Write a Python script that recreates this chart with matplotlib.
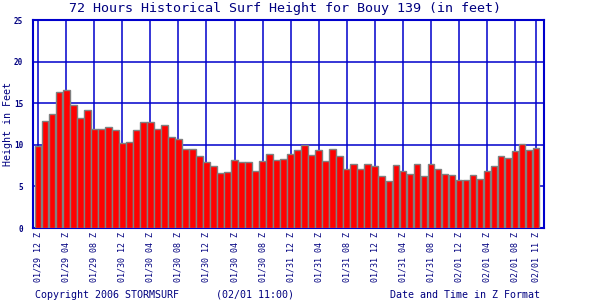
import matplotlib
matplotlib.use("Agg")
import matplotlib.pyplot as plt

heights = [9.9, 12.9, 13.7, 16.35, 16.6, 14.75, 13.2, 14.2, 11.9, 11.9,
           12.2, 11.75, 10.2, 10.4, 11.75, 12.8, 12.7, 11.85, 12.35, 10.9,
           10.65, 9.45, 9.45, 8.6, 7.9, 7.4, 6.6, 6.7, 8.15, 7.9,
           7.9, 6.8, 8.0, 8.95, 8.15, 8.25, 8.95, 9.35, 9.95, 8.75,
           9.35, 8.0, 9.45, 8.6, 7.15, 7.65, 7.15, 7.65, 7.4, 6.2,
           5.6, 7.55, 6.8, 6.45, 7.65, 6.2, 7.75, 7.15, 6.55, 6.35,
           5.75, 5.75, 6.35, 5.95, 6.8, 7.4, 8.6, 8.4, 9.2, 10.05,
           9.35, 9.6]
tick_labels = ["01/29 12 Z", "01/29 04 Z", "01/29 08 Z", "01/30 12 Z", "01/30 04 Z",
               "01/30 08 Z", "01/30 12 Z", "01/30 04 Z", "01/30 08 Z", "01/31 12 Z",
               "01/31 04 Z", "01/31 08 Z", "01/31 12 Z", "01/31 04 Z", "01/31 08 Z",
               "02/01 12 Z", "02/01 04 Z", "02/01 08 Z", "02/01 11 Z"]
tick_idx = list(range(0, 72, 4)) + [71]
y_ticks = [0, 5, 10, 15, 20, 25]

blue = "#0000CC"
navy = "#000080"
mono = "DejaVu Sans Mono"

fig = plt.figure(figsize=(6, 3), dpi=100)
ax = fig.add_axes([0.055, 0.24, 0.852, 0.693])
x = list(range(len(heights)))
ax.bar(x, heights, width=0.9, color="#FF0000", edgecolor="#808080", linewidth=1.0, zorder=3)
ax.set_xlim(-0.76, 72.2)
ax.set_ylim(0, 25)
ax.set_yticks(y_ticks)
ax.set_yticklabels([str(v) for v in y_ticks], fontsize=5.5, fontfamily=mono,
                   color=navy, fontweight="bold")
ax.set_xticks(tick_idx)
ax.set_xticklabels(tick_labels, rotation=90, fontsize=6, fontfamily=mono, color=navy)
ax.tick_params(axis="y", length=0, pad=7)
ax.tick_params(axis="x", length=0, pad=3)
ax.grid(True, color=blue, linewidth=1.1, zorder=0)
ax.set_axisbelow(True)
for s in ax.spines.values():
    s.set_color(blue)
    s.set_linewidth(1.5)
ax.set_ylabel("Height in Feet", fontsize=7.2, fontfamily=mono, color=navy)
ax.yaxis.set_label_coords(-0.04, 0.5)

fig.text(0.475, 0.973, "72 Hours Historical Surf Height for Bouy 139 (in feet)",
         ha="center", va="center", fontsize=9.6, fontfamily=mono, color=navy)
fig.text(0.058, 0.017, "Copyright 2006 STORMSURF", ha="left", va="center",
         fontsize=7.2, fontfamily=mono, color=navy)
fig.text(0.36, 0.017, "(02/01 11:00)", ha="left", va="center",
         fontsize=7.2, fontfamily=mono, color=navy)
fig.text(0.9, 0.017, "Date and Time in Z Format", ha="right", va="center",
         fontsize=7.2, fontfamily=mono, color=navy)

fig.savefig("out.png", dpi=100, facecolor="white")
